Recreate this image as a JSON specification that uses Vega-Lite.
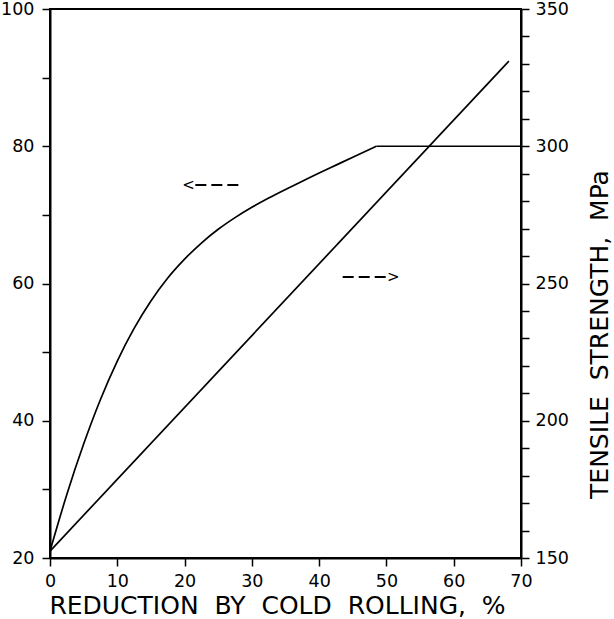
{
  "$schema": "https://vega.github.io/schema/vega-lite/v6.json",
  "width": 471,
  "height": 549,
  "autosize": {"type": "none"},
  "padding": {"left": 50, "top": 9, "right": 93, "bottom": 61},
  "background": "white",
  "config": {
    "view": {"stroke": "black", "strokeWidth": 2},
    "axis": {
      "grid": false,
      "domainColor": "black",
      "domainWidth": 2,
      "tickColor": "black",
      "tickWidth": 1.5,
      "tickSize": 8,
      "labelFont": "DejaVu Sans",
      "labelFontSize": 17.5,
      "labelColor": "black",
      "titleFont": "DejaVu Sans",
      "titleFontSize": 25,
      "titleFontWeight": "normal",
      "titleColor": "black"
    }
  },
  "datasets": {
    "ductility": [
      {"segment": "rise", "reduction": 0, "value": 21.0},
      {"segment": "rise", "reduction": 2.5, "value": 29.25},
      {"segment": "rise", "reduction": 5, "value": 36.6},
      {"segment": "rise", "reduction": 7.5, "value": 43.1},
      {"segment": "rise", "reduction": 10, "value": 48.7},
      {"segment": "rise", "reduction": 12.5, "value": 53.45},
      {"segment": "rise", "reduction": 15, "value": 57.45},
      {"segment": "rise", "reduction": 17.5, "value": 60.8},
      {"segment": "rise", "reduction": 20, "value": 63.55},
      {"segment": "rise", "reduction": 22.5, "value": 65.9},
      {"segment": "rise", "reduction": 25, "value": 67.9},
      {"segment": "rise", "reduction": 27.5, "value": 69.6},
      {"segment": "rise", "reduction": 30, "value": 71.1},
      {"segment": "rise", "reduction": 32.5, "value": 72.45},
      {"segment": "rise", "reduction": 35, "value": 73.7},
      {"segment": "rise", "reduction": 37.5, "value": 74.9},
      {"segment": "rise", "reduction": 40, "value": 76.1},
      {"segment": "rise", "reduction": 42.5, "value": 77.25},
      {"segment": "rise", "reduction": 45, "value": 78.4},
      {"segment": "rise", "reduction": 48.5, "value": 80.0},
      {"segment": "plateau", "reduction": 48.5, "value": 80.0},
      {"segment": "plateau", "reduction": 70, "value": 80.0}
    ],
    "strength": [
      {"reduction": 0, "strength": 152.5},
      {"reduction": 68.2, "strength": 331}
    ],
    "arrowDash": [
      {"from": 21.6, "to": 28.4, "value": 74.35},
      {"from": 43.5, "to": 49.9, "value": 60.95}
    ],
    "arrowHead": [
      {"reduction": 20.6, "value": 74.35, "head": "<"},
      {"reduction": 51.0, "value": 60.95, "head": ">"}
    ]
  },
  "layer": [
    {
      "layer": [
        {
          "data": {"name": "ductility"},
          "mark": {"type": "line", "color": "black", "strokeWidth": 1.7, "interpolate": "monotone"},
          "encoding": {
            "detail": {"field": "segment", "type": "nominal"},
            "x": {
              "field": "reduction",
              "type": "quantitative",
              "scale": {"domain": [0, 70], "nice": false},
              "axis": {
                "values": [0, 5, 10, 15, 20, 25, 30, 35, 40, 45, 50, 55, 60, 65, 70],
                "labelExpr": "datum.value % 10 === 0 ? datum.label : ''",
                "labelPadding": 6,
                "labelFlush": false,
                "title": "REDUCTION\u00a0\u00a0BY\u00a0\u00a0COLD\u00a0\u00a0ROLLING,\u00a0\u00a0%",
                "titleX": 227,
                "titleY": 55,
                "titleBaseline": "alphabetic"
              }
            },
            "y": {
              "field": "value",
              "type": "quantitative",
              "scale": {"domain": [20, 100], "nice": false},
              "axis": {
                "orient": "left",
                "values": [20, 25, 30, 35, 40, 45, 50, 55, 60, 65, 70, 75, 80, 85, 90, 95, 100],
                "labelExpr": "datum.value % 20 === 0 ? datum.label : ''",
                "labelPadding": 8,
                "labelFlush": false,
                "title": null
              }
            }
          }
        },
        {
          "data": {"name": "arrowDash"},
          "mark": {"type": "rule", "color": "black", "strokeWidth": 1.8, "strokeDash": [11, 5]},
          "encoding": {
            "x": {"field": "from", "type": "quantitative"},
            "x2": {"field": "to"},
            "y": {"field": "value", "type": "quantitative"}
          }
        },
        {
          "data": {"name": "arrowHead"},
          "mark": {"type": "text", "font": "DejaVu Sans", "fontSize": 15, "color": "black", "baseline": "middle", "align": "center"},
          "encoding": {
            "x": {"field": "reduction", "type": "quantitative"},
            "y": {"field": "value", "type": "quantitative"},
            "text": {"field": "head"}
          }
        }
      ]
    },
    {
      "data": {"name": "strength"},
      "mark": {"type": "line", "color": "black", "strokeWidth": 1.7},
      "encoding": {
        "x": {"field": "reduction", "type": "quantitative"},
        "y": {
          "field": "strength",
          "type": "quantitative",
          "scale": {"domain": [150, 350], "nice": false},
          "axis": {
            "orient": "right",
            "values": [150, 160, 170, 180, 190, 200, 210, 220, 230, 240, 250, 260, 270, 280, 290, 300, 310, 320, 330, 340, 350],
            "labelExpr": "datum.value % 50 === 0 ? datum.label : ''",
            "labelPadding": 6,
            "labelFlush": false,
            "title": "TENSILE\u00a0\u00a0STRENGTH,\u00a0\u00a0MPa",
            "titleAngle": 270,
            "titleX": 86,
            "titleY": 325,
            "titleBaseline": "alphabetic",
            "titleAlign": "center"
          }
        }
      }
    }
  ],
  "resolve": {"scale": {"y": "independent"}}
}
